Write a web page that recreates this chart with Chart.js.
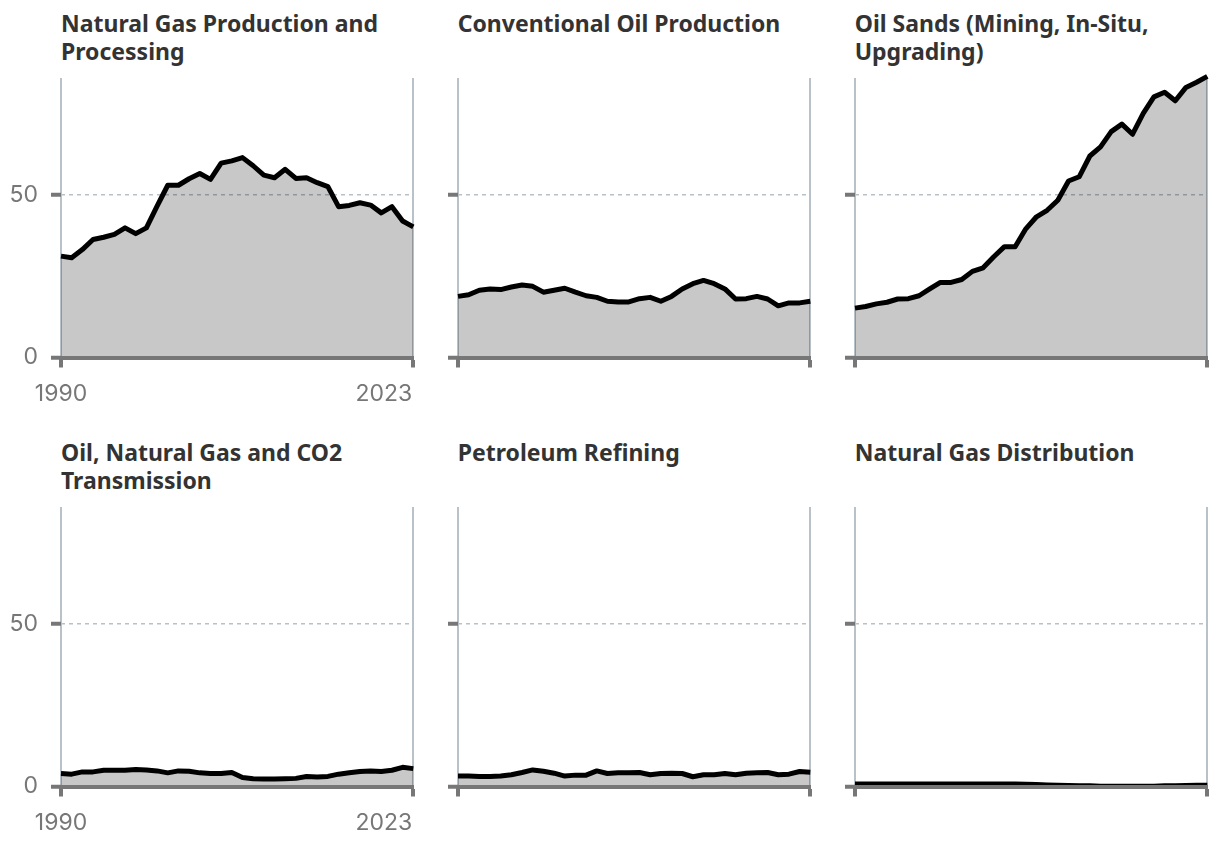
<!DOCTYPE html>
<html lang="en">
<head>
    <meta charset="UTF-8">
    <title>Emissions by oil and gas subsector</title>
    <script src="https://cdn.jsdelivr.net/npm/chart.js"></script>
    <style>
        body {
            margin: 0;
            background: #fff;
            width: 1220px;
            height: 846px;
            position: relative;
            overflow: hidden;
        }

        .title {
            position: absolute;
            width: 360px;
            font-family: "Noto Sans", sans-serif;
            font-weight: 700;
            font-size: 23px;
            line-height: 28px;
            color: #333;
        }

        canvas {
            position: absolute;
        }
    </style>
</head>
<body>
<script>
    const years = [1990, 1991, 1992, 1993, 1994, 1995, 1996, 1997, 1998, 1999,
        2000, 2001, 2002, 2003, 2004, 2005, 2006, 2007, 2008, 2009,
        2010, 2011, 2012, 2013, 2014, 2015, 2016, 2017, 2018, 2019,
        2020, 2021, 2022, 2023];

    const titles = [
        'Natural Gas Production and Processing',
        'Conventional Oil Production',
        'Oil Sands (Mining, In-Situ, Upgrading)',
        'Oil, Natural Gas and CO2 Transmission',
        'Petroleum Refining',
        'Natural Gas Distribution'
    ];

    const gasProduction = [31.2, 30.7, 33.2, 36.3, 37.0, 37.9, 39.9, 38.1, 39.9, 46.6,
        53.0, 53.0, 55.0, 56.6, 54.8, 59.8, 60.5, 61.5, 59.0, 56.1,
        55.3, 57.9, 55.1, 55.3, 53.8, 52.6, 46.4, 46.8, 47.6, 46.9,
        44.5, 46.4, 42.0, 40.2];
    const conventionalOil = [18.8, 19.3, 20.7, 21.1, 20.9, 21.7, 22.3, 21.9, 20.1, 20.7,
        21.3, 20.1, 19.0, 18.5, 17.3, 17.1, 17.1, 18.1, 18.5, 17.3,
        18.8, 21.1, 22.7, 23.7, 22.7, 21.1, 18.0, 18.1, 18.8, 18.0,
        15.9, 16.8, 16.8, 17.3];
    const oilSands = [15.2, 15.7, 16.5, 17.0, 18.0, 18.1, 19.0, 21.1, 23.1, 23.1,
        24.0, 26.5, 27.6, 31.0, 34.1, 34.1, 39.6, 43.3, 45.3, 48.4,
        54.3, 55.6, 62.0, 64.8, 69.5, 71.8, 68.7, 75.1, 80.2, 81.6,
        79.0, 83.1, 84.7, 86.5];
    const transmission = [4.0, 3.8, 4.5, 4.5, 5.0, 5.0, 5.0, 5.2, 5.1, 4.8,
        4.2, 4.8, 4.7, 4.2, 4.0, 4.0, 4.3, 2.8, 2.4, 2.3,
        2.3, 2.4, 2.5, 3.1, 2.9, 3.1, 3.8, 4.2, 4.6, 4.8,
        4.6, 5.0, 5.9, 5.5];
    const refining = [3.2, 3.2, 3.1, 3.1, 3.2, 3.6, 4.3, 5.1, 4.7, 4.1,
        3.2, 3.5, 3.5, 4.8, 4.0, 4.2, 4.2, 4.3, 3.6, 4.0,
        4.1, 4.0, 3.0, 3.6, 3.6, 4.0, 3.6, 4.1, 4.2, 4.3,
        3.6, 3.8, 4.6, 4.4];
    const distribution = [0.8, 0.8, 0.8, 0.8, 0.8, 0.8, 0.8, 0.8, 0.8, 0.8,
        0.8, 0.8, 0.8, 0.8, 0.8, 0.8, 0.7, 0.6, 0.5, 0.4,
        0.3, 0.2, 0.2, 0.1, 0.1, 0.1, 0.1, 0.1, 0.1, 0.2,
        0.2, 0.3, 0.4, 0.4];

    const yTicks = [0, 50];
    const xTickLabels = ['1990', '2023'];
    const yMax = 86;

    const series = [gasProduction, conventionalOil, oilSands, transmission, refining, distribution];

    // panel geometry (px)
    const colLeft = [0, 396.7, 793.7];
    const rowTop = [70, 498.5];
    const canvasW = 420, canvasH = 340;
    const padTop = 8, yAxisW = 61, plotW = 352.3, plotH = 279.5;

    const tickFont = {family: 'Inter', size: 23, weight: 400};
    const tickGray = '#777';

    // draws 1990 (centred) and 2023 (right aligned) under the left column
    const endLabels = {
        id: 'endLabels',
        afterDraw(chart, args, opts) {
            if (!opts.show) return;
            const xs = chart.scales.x;
            const ctx = chart.ctx;
            const y = chart.chartArea.bottom + 37;
            ctx.save();
            ctx.font = `${tickFont.weight} ${tickFont.size}px ${tickFont.family}`;
            ctx.fillStyle = tickGray;
            ctx.textBaseline = 'middle';
            ctx.textAlign = 'center';
            ctx.fillText(xTickLabels[0], xs.getPixelForValue(years[0]), y);
            ctx.textAlign = 'right';
            ctx.fillText(xTickLabels[1], xs.getPixelForValue(years[years.length - 1]) - 1, y);
            ctx.restore();
        }
    };

    function makePanel(i) {
        const col = i % 3, row = Math.floor(i / 3);
        const left = colLeft[col], top = rowTop[row];

        const t = document.createElement('div');
        t.className = 'title';
        t.style.left = (left + yAxisW) + 'px';
        t.style.top = (top - 61) + 'px';
        t.textContent = titles[i];
        document.body.appendChild(t);

        const canvas = document.createElement('canvas');
        canvas.width = canvasW;
        canvas.height = canvasH;
        canvas.style.left = left + 'px';
        canvas.style.top = top + 'px';
        document.body.appendChild(canvas);

        const showLabels = col === 0;

        new Chart(canvas, {
            type: 'line',
            data: {
                datasets: [{
                    data: series[i].map((v, k) => ({x: years[k], y: v})),
                    borderColor: '#000',
                    borderWidth: 5,
                    backgroundColor: 'rgba(0, 0, 0, 0.215)',
                    fill: 'origin',
                    pointRadius: 0,
                    tension: 0,
                    borderJoinStyle: 'round',
                    clip: false
                }]
            },
            plugins: [endLabels],
            options: {
                responsive: false,
                animation: false,
                devicePixelRatio: 1,
                layout: {
                    padding: {top: padTop, left: 0, right: canvasW - yAxisW - plotW, bottom: 0}
                },
                plugins: {
                    legend: {display: false},
                    tooltip: {enabled: false},
                    endLabels: {show: showLabels}
                },
                scales: {
                    x: {
                        type: 'linear',
                        min: years[0],
                        max: years[years.length - 1],
                        afterBuildTicks: s => { s.ticks = [{value: years[0]}, {value: years[years.length - 1]}]; },
                        afterFit: s => {
                            s.height = canvasH - padTop - plotH;
                            s.paddingLeft = 0;
                            s.paddingRight = 0;
                        },
                        ticks: {display: false},
                        grid: {
                            color: '#b8c2c8',
                            lineWidth: 2,
                            tickColor: tickGray,
                            tickWidth: 4,
                            tickLength: 10
                        },
                        border: {display: true, color: tickGray, width: 4, z: 1}
                    },
                    y: {
                        min: 0,
                        max: yMax,
                        afterBuildTicks: s => { s.ticks = yTicks.map(v => ({value: v})); },
                        afterFit: s => {
                            s.width = yAxisW;
                            s.paddingTop = 0;
                            s.paddingBottom = 0;
                        },
                        ticks: {
                            color: showLabels ? tickGray : 'rgba(0,0,0,0)',
                            font: tickFont,
                            padding: 13
                        },
                        grid: {
                            color: c => c.tick && c.tick.value === 0 ? 'rgba(0,0,0,0)' : '#b7c1c7',
                            lineWidth: 1.5,
                            tickColor: tickGray,
                            tickWidth: 4,
                            tickLength: 10
                        },
                        border: {display: false, dash: [4, 4]}
                    }
                }
            }
        });
    }

    for (let i = 0; i < 6; i++) makePanel(i);
</script>
</body>
</html>
